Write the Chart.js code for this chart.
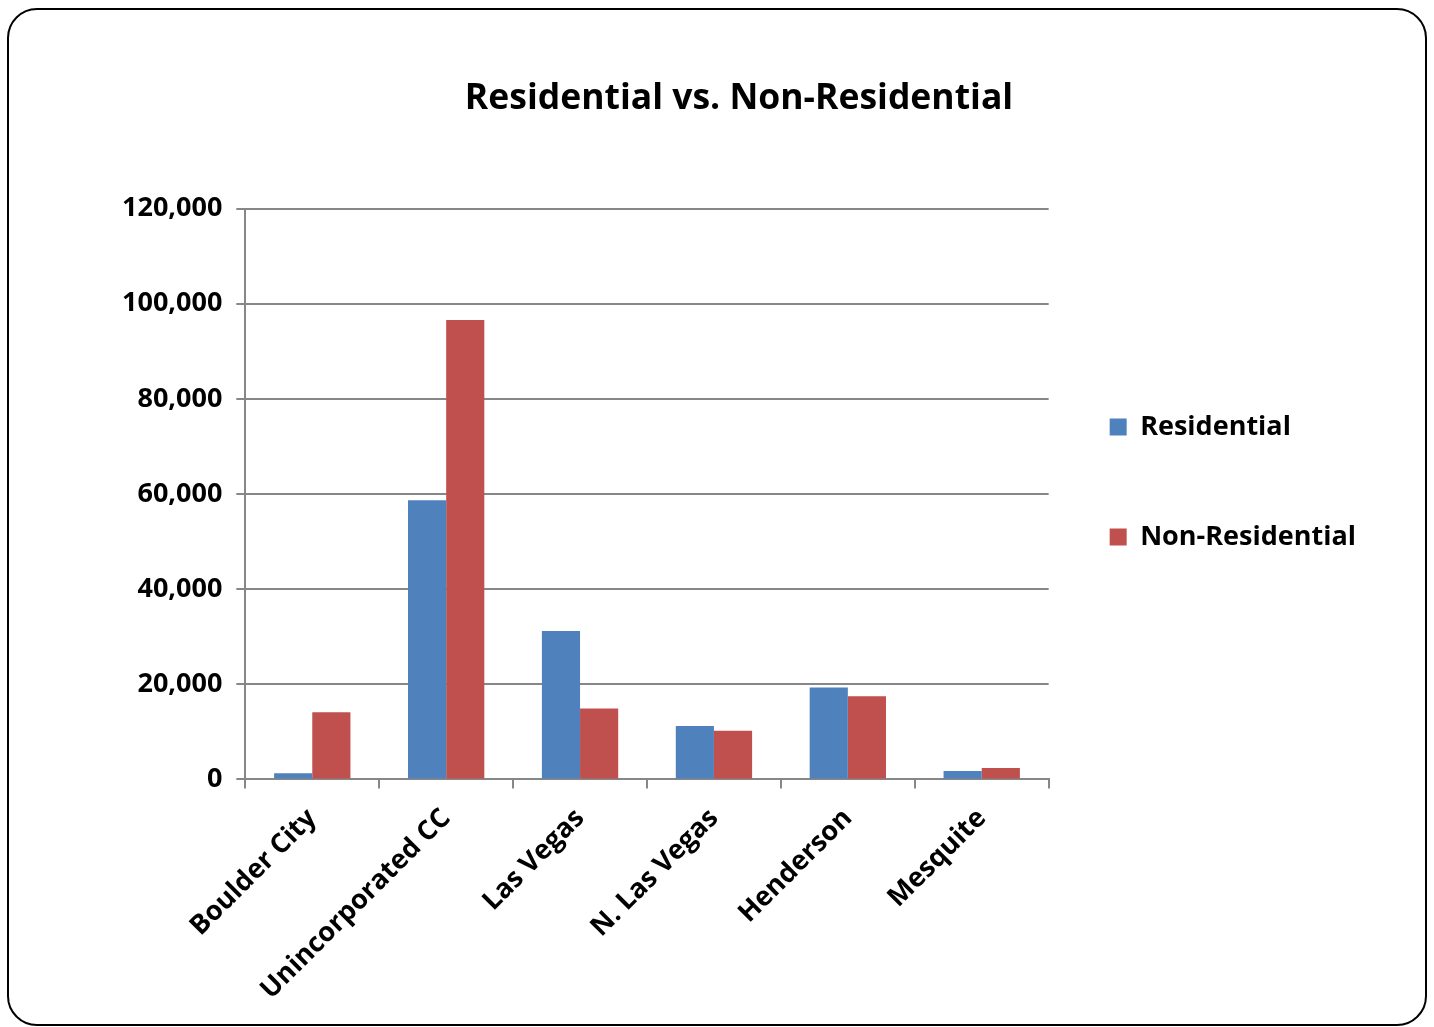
<!DOCTYPE html>
<html>
<head>
<meta charset="utf-8">
<title>Residential vs. Non-Residential</title>
<script src="https://cdn.jsdelivr.net/npm/chart.js@4.4.0/dist/chart.umd.min.js"></script>
<style>
  html, body { margin: 0; padding: 0; background: #fff; }
  #frame {
    position: absolute;
    left: 7px; top: 8px;
    width: 1416px; height: 1014px;
    border: 2.5px solid #000;
    border-radius: 30px;
    overflow: hidden;
  }
  #myChart { display: block; }
</style>
</head>
<body>
<div id="frame"><canvas id="myChart"></canvas></div>
<script>
var cities = ["Boulder City", "Unincorporated CC", "Las Vegas", "N. Las Vegas", "Henderson", "Mesquite"];
var residential = [1300, 58700, 31200, 11200, 19300, 1750];
var nonResidential = [14100, 96600, 14900, 10200, 17500, 2400];
var yTicks = [0, 20000, 40000, 60000, 80000, 100000, 120000];

var blue = '#4f81bd';
var red = '#c0504d';
var gridGray = '#878787';
var fontFamily = "'Open Sans', 'Noto Sans', sans-serif";

Chart.defaults.font.family = fontFamily;
Chart.defaults.color = '#000';

// the legend's label padding is large (for the row gap), so pull the
// whole legend box up and towards the plot a bit; title sits a touch left
var boxShift = {
    id: 'boxShift',
    afterLayout: function(chart) {
        var lg = chart.legend;
        if (lg) {
            lg.top -= 33;
            lg.bottom -= 33;
            lg.left -= 22;
            lg.right -= 22;
            lg.adjustHitBoxes();
        }
        var tb = chart.titleBlock;
        if (tb) {
            tb.left -= 9;
            tb.right -= 9;
        }
    }
};

var ctx = document.getElementById('myChart').getContext('2d');
var chart = new Chart(ctx, {
    type: 'bar',
    data: {
        labels: cities,
        datasets: [{
            label: 'Residential',
            backgroundColor: blue,
            data: residential
        }, {
            label: 'Non-Residential',
            backgroundColor: red,
            data: nonResidential
        }]
    },
    plugins: [boxShift],
    options: {
        responsive: true,
        maintainAspectRatio: false,
        animation: false,
        layout: {
            padding: { left: 99, right: 37, top: 0, bottom: 4 }
        },
        datasets: {
            bar: { categoryPercentage: 0.57, barPercentage: 1.0 }
        },
        plugins: {
            title: {
                display: true,
                text: 'Residential vs. Non-Residential',
                font: { size: 35.5, weight: 'bold' },
                padding: { top: 68, bottom: 88 }
            },
            legend: {
                position: 'right',
                maxWidth: 420,
                labels: {
                    boxWidth: 17,
                    boxHeight: 17,
                    padding: 83,
                    font: { size: 27, weight: 'bold' }
                }
            },
            tooltip: { enabled: false }
        },
        scales: {
            x: {
                grid: {
                    offset: true,
                    drawOnChartArea: false,
                    drawTicks: true,
                    tickLength: 9,
                    color: gridGray,
                    lineWidth: 2
                },
                border: { color: gridGray, width: 2 },
                ticks: {
                    minRotation: 45,
                    maxRotation: 45,
                    padding: 14,
                    font: { size: 27, weight: 'bold' }
                }
            },
            y: {
                min: 0,
                max: 120000,
                afterBuildTicks: function(axis) {
                    axis.ticks = yTicks.map(function(v) { return { value: v }; });
                },
                grid: {
                    color: gridGray,
                    lineWidth: 2,
                    tickLength: 9
                },
                border: { color: gridGray, width: 2 },
                ticks: {
                    padding: 14,
                    font: { size: 27, weight: 'bold' },
                    callback: function(v) { return v.toLocaleString('en-US'); }
                }
            }
        }
    }
});
</script>
</body>
</html>
